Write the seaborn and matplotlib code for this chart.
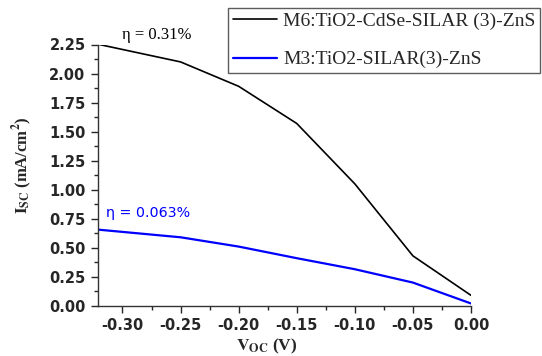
import matplotlib
matplotlib.use("Agg")
import matplotlib.pyplot as plt
from matplotlib.ticker import MultipleLocator, FormatStrFormatter
import seaborn as sns
import pandas as pd

voc = [-0.32, -0.25, -0.20, -0.15, -0.10, -0.05, 0.00]
isc_m6 = [2.25, 2.10, 1.89, 1.57, 1.05, 0.43, 0.09]
isc_m3 = [0.655, 0.59, 0.51, 0.41, 0.315, 0.20, 0.02]
label_m6 = "M6:TiO2-CdSe-SILAR (3)-ZnS"
label_m3 = "M3:TiO2-SILAR(3)-ZnS"

df = pd.DataFrame({
    "Voc": voc * 2,
    "Isc": isc_m6 + isc_m3,
    "sample": [label_m6] * len(voc) + [label_m3] * len(voc),
})

sns.set_style("ticks")
plt.rcParams["mathtext.fontset"] = "stix"

fig = plt.figure(figsize=(5.42, 3.56), dpi=100)
ax = fig.add_axes([0.181, 0.141, 0.688, 0.734])

sns.lineplot(data=df, x="Voc", y="Isc", hue="sample",
             palette={label_m6: "black", label_m3: "#0000ff"},
             ax=ax, legend=False, linewidth=1.2)
ax.lines[1].set_linewidth(1.6)

ax.set_xlim(-0.321, 0.0)
ax.set_ylim(0, 2.25)
ax.xaxis.set_major_locator(MultipleLocator(0.05))
ax.xaxis.set_minor_locator(MultipleLocator(0.025))
ax.yaxis.set_major_locator(MultipleLocator(0.25))
ax.yaxis.set_minor_locator(MultipleLocator(0.125))
ax.xaxis.set_major_formatter(FormatStrFormatter("%.2f"))
ax.yaxis.set_major_formatter(FormatStrFormatter("%.2f"))
ax.tick_params(which="major", direction="out", length=5, width=1, labelsize=10.5, pad=4)
ax.tick_params(which="minor", direction="out", length=3, width=1)
for lab in ax.get_xticklabels() + ax.get_yticklabels():
    lab.set_fontweight("bold")
    lab.set_family("DejaVu Sans")
sns.despine(ax=ax)
for s in ["left", "bottom"]:
    ax.spines[s].set_linewidth(1.0)
    ax.spines[s].set_color("#333333")

ax.set_xlabel(r"$\mathbf{V}_{\mathbf{OC}}$ (V)", family="Liberation Serif",
              fontweight="bold", fontsize=12.5)
ax.set_ylabel(r"$\mathbf{I}_{\mathbf{SC}}$ (mA/cm$^{\mathbf{2}}$)", family="Liberation Serif",
              fontweight="bold", fontsize=12)
ax.xaxis.set_label_coords(0.453, -0.12)
ax.yaxis.set_label_coords(-0.172, 0.537)

ax.text(-0.30, 2.33, "η = 0.31%", family="Liberation Serif", fontsize=12,
        color="black", va="center")
ax.text(-0.314, 0.80, "η = 0.063%", family="DejaVu Sans", fontsize=10.3,
        color="#0000ff", va="center")

handles = [plt.Line2D([], [], color="black", lw=1.2),
           plt.Line2D([], [], color="#0000ff", lw=1.6)]
leg = fig.legend(handles, [label_m6, label_m3], loc="upper right",
                 bbox_to_anchor=(0.997, 0.978), borderaxespad=0,
                 prop={"family": "Liberation Serif", "size": 14},
                 frameon=True, fancybox=False, edgecolor="#333333",
                 handlelength=2.3, handletextpad=0.3, labelspacing=1.05,
                 borderpad=0.25)
leg.get_frame().set_linewidth(1.0)

fig.savefig("out.png", dpi=100)
